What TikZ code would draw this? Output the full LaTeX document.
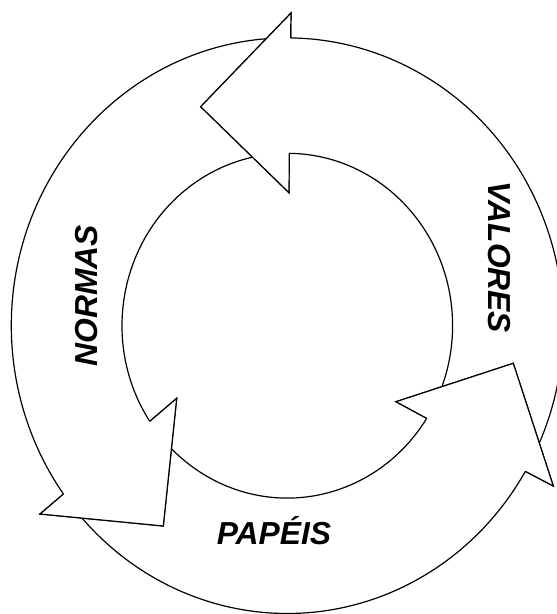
\documentclass[tikz,border=0pt]{standalone}
\usepackage{fontspec}
\setmainfont{Liberation Sans}
\begin{document}
\begin{tikzpicture}[x=1pt,y=1pt,
  ring/.style={line width=1.2pt, line join=miter},
  cover/.style={fill=white},
  outerarc/.style={x radius=276pt, y radius=287.8pt},
  innerarc/.style={x radius=165.3pt, y radius=172.4pt},
  label/.style={font=\fontsize{31.8}{36}\selectfont\bfseries\itshape, inner sep=0pt}]
\useasboundingbox (0,0) rectangle (557,-614);
\clip (0,0) rectangle (557,-614);
% ring centre
\coordinate (c) at (287.3,-325.7);

% arrow heads: outer barb, tip, inner barb
\coordinate (vB1) at (291,-13);    \coordinate (vT) at (200.7,-106.7); \coordinate (vB2) at (289,-192.7);
\coordinate (nB1) at (40,-514);    \coordinate (nT) at (163.3,-526);   \coordinate (nB2) at (176.7,-398.3);
\coordinate (pB1) at (553.3,-486); \coordinate (pT) at (513.3,-363.3); \coordinate (pB2) at (396,-401.7);

% points on the outer (o) and inner (i) rims
\path (c) ++(-28:276pt and 287.8pt)    coordinate (vTo);
\path (c) ++(89.3:276pt and 287.8pt)   coordinate (vNo);
\path (c) ++(89.3:165.3pt and 172.4pt) coordinate (vNi);
\path (c) ++(91:276pt and 287.8pt)     coordinate (nTo);
\path (c) ++(215.8:276pt and 287.8pt)  coordinate (nNo);
\path (c) ++(213.7:165.3pt and 172.4pt) coordinate (nNi);
\path (c) ++(218:276pt and 287.8pt)    coordinate (pTo);
\path (c) ++(329.6:276pt and 287.8pt)  coordinate (pNo);
\path (c) ++(327.5:165.3pt and 172.4pt) coordinate (pNi);

% the three curved arrows (bands)
\draw[ring] (vTo) arc[start angle=-28, end angle=89.3, outerarc]
  -- (vB1) -- (vT) -- (vB2) -- (vNi)
  arc[start angle=89.3, end angle=-28, innerarc];
\draw[ring] (nTo) arc[start angle=91, end angle=215.8, outerarc]
  -- (nB1) -- (nT) -- (nB2) -- (nNi)
  arc[start angle=213.7, end angle=91, innerarc];
\draw[ring] (pTo) arc[start angle=218, end angle=329.6, outerarc]
  -- (pB1) -- (pT) -- (pB2) -- (pNi)
  arc[start angle=327.5, end angle=218, innerarc];

% heads laid over the tail of the following band
\fill[cover] (vB1) -- (vT) -- (vB2) -- cycle;
\draw[ring] (vNo) -- (vB1) -- (vT) -- (vB2) -- (vNi);
\fill[cover] (nB1) -- (nT) -- (nB2) -- cycle;
\draw[ring] (nNo) -- (nB1) -- (nT) -- (nB2) -- (nNi);
\fill[cover] (pB1) -- (pT) -- (pB2) -- cycle;
\draw[ring] (pNo) -- (pB1) -- (pT) -- (pB2) -- (pNi);

% labels
\node[label, rotate=90]  (normas)  at (87,-295.5)  {NORMAS};
\node[label, rotate=-90] (valores) at (499,-257.5) {VALORES};
\node[label, anchor=base] (papeis) at (274,-544)   {PAPÉIS};
\end{tikzpicture}
\end{document}
